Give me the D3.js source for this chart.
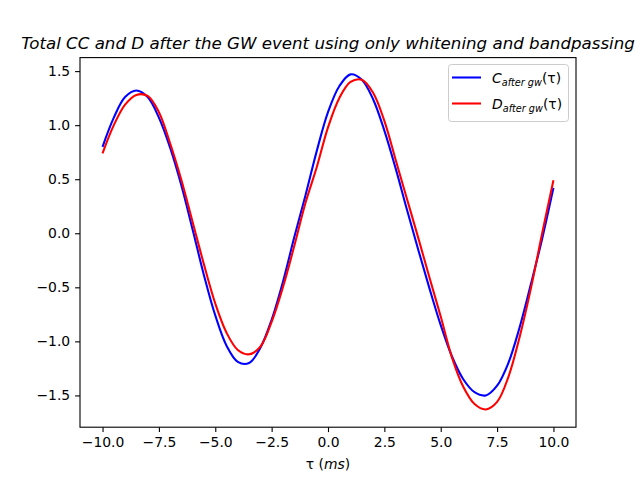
<!DOCTYPE html>
<html>
<head>
<meta charset="utf-8">
<script src="https://cdn.jsdelivr.net/npm/d3@7/dist/d3.min.js"></script>
<style>
body { margin: 0; background: #fff; }
text { font-family: "DejaVu Sans", sans-serif; }
</style>
</head>
<body>
<script>
// tau in ms
var tau = [-10, -9.5, -9, -8.5, -8, -7.5, -7, -6.5, -6, -5.5, -5, -4.5, -4, -3.5, -3, -2.5, -2, -1.5, -1, -0.5,
           0, 0.5, 1, 1.5, 2, 2.5, 3, 3.5, 4, 4.5, 5, 5.5, 6, 6.5, 7, 7.5, 8, 8.5, 9, 9.5, 10];

// C after gw (blue)
var cAfter = [0.80, 1.07, 1.26, 1.32, 1.26, 1.07, 0.79, 0.44, 0.03, -0.39, -0.76, -1.04, -1.19, -1.20, -1.06, -0.80, -0.45, -0.04, 0.35, 0.76,
              1.12, 1.36, 1.47, 1.42, 1.24, 0.95, 0.60, 0.22, -0.15, -0.51, -0.85, -1.14, -1.35, -1.47, -1.50, -1.41, -1.20, -0.87, -0.47, -0.05, 0.42];

// D after gw (red)
var dAfter = [0.74, 1.00, 1.19, 1.28, 1.27, 1.12, 0.83, 0.49, 0.10, -0.29, -0.65, -0.92, -1.08, -1.12, -1.05, -0.82, -0.50, -0.12, 0.28, 0.61,
              0.98, 1.25, 1.40, 1.42, 1.30, 1.04, 0.68, 0.32, -0.04, -0.41, -0.77, -1.15, -1.42, -1.58, -1.63, -1.56, -1.33, -0.96, -0.51, 0.00, 0.49];

var xTicks = [-10, -7.5, -5, -2.5, 0, 2.5, 5, 7.5, 10];
var yTicks = [-1.5, -1, -0.5, 0, 0.5, 1, 1.5];

var width = 640, height = 480;
var axLeft = 80, axRight = 576, axTop = 57.6, axBottom = 427.2;

var svg = d3.select("body").append("svg")
    .attr("width", width)
    .attr("height", height);

var x = d3.scaleLinear().domain([-11, 11]).range([axLeft, axRight]);
var y = d3.scaleLinear().domain([-1.794, 1.625]).range([axBottom, axTop]);

var fmt = d3.format(".1f");

// axes
var xAxis = svg.append("g")
    .attr("transform", "translate(0," + axBottom + ")")
    .call(d3.axisBottom(x).tickValues(xTicks).tickFormat(fmt).tickSize(4.9).tickPadding(4.9).tickSizeOuter(0));
var yAxis = svg.append("g")
    .attr("transform", "translate(" + axLeft + ",0)")
    .call(d3.axisLeft(y).tickValues(yTicks).tickFormat(fmt).tickSize(4.9).tickPadding(4.9).tickSizeOuter(0));

[xAxis, yAxis].forEach(function(a) {
  a.select(".domain").remove();
  a.selectAll("line").attr("stroke", "#000").attr("stroke-width", 1.1);
  a.selectAll("text").attr("fill", "#000").style("font-size", "13.9px").style("font-family", "DejaVu Sans");
});

// lines
var series = [
  {vals: cAfter, color: "#0000ff"},
  {vals: dAfter, color: "#ff0000"}
];

var line = d3.line()
    .x(function(d) { return x(d[0]); })
    .y(function(d) { return y(d[1]); })
    .curve(d3.curveCatmullRom.alpha(0.5));

series.forEach(function(s) {
  svg.append("path")
    .datum(tau.map(function(t, i) { return [t, s.vals[i]]; }))
    .attr("d", line)
    .attr("fill", "none")
    .attr("stroke", s.color)
    .attr("stroke-width", 2.08);
});

// frame
svg.append("rect")
    .attr("x", axLeft).attr("y", axTop)
    .attr("width", axRight - axLeft).attr("height", axBottom - axTop)
    .attr("fill", "none").attr("stroke", "#000").attr("stroke-width", 1.1);

// title
svg.append("text")
    .attr("x", (axLeft + axRight) / 2)
    .attr("y", 49)
    .attr("text-anchor", "middle")
    .style("font-size", "16.67px")
    .style("font-style", "italic")
    .text("Total CC and D after the GW event using only whitening and bandpassing");

// x label
var xl = svg.append("text")
    .attr("x", (axLeft + axRight) / 2)
    .attr("y", 469)
    .attr("text-anchor", "middle")
    .style("font-size", "13.9px");
xl.append("tspan").text("τ (");
xl.append("tspan").style("font-style", "italic").text("ms");
xl.append("tspan").text(")");

// legend
var lg = svg.append("g");
lg.append("rect")
    .attr("x", 448.5).attr("y", 64.5)
    .attr("width", 120).attr("height", 57)
    .attr("rx", 3)
    .attr("fill", "#fff").attr("fill-opacity", 0.8)
    .attr("stroke", "#cccccc").attr("stroke-width", 1);

var labels = ["C", "D"];
series.forEach(function(s, i) {
  var ly = 77.5 + i * 26;
  lg.append("line")
    .attr("x1", 452).attr("x2", 481)
    .attr("y1", ly).attr("y2", ly)
    .attr("stroke", s.color).attr("stroke-width", 2.08);
  var t = lg.append("text")
    .attr("x", 492)
    .attr("y", ly + 5)
    .style("font-size", "13.9px");
  t.append("tspan").style("font-style", "italic").text(labels[i]);
  t.append("tspan").style("font-style", "italic").style("font-size", "9.7px").attr("dy", 3).text("after gw");
  t.append("tspan").attr("dy", -3).text("(τ)");
});
</script>
</body>
</html>
